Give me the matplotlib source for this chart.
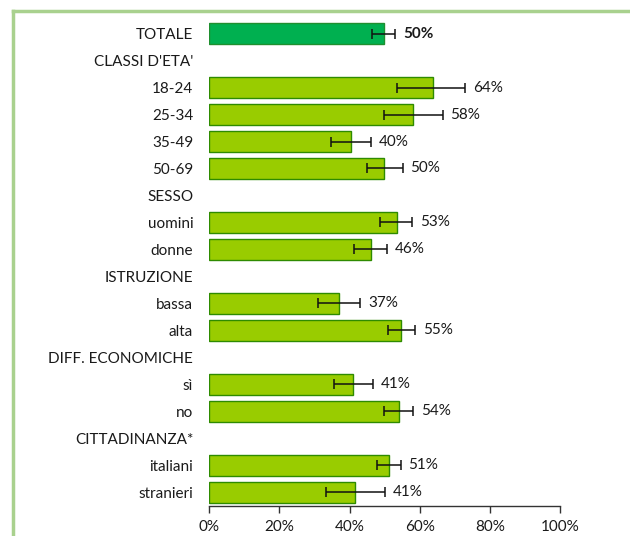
import matplotlib
matplotlib.use("Agg")
import matplotlib.pyplot as plt
from matplotlib.lines import Line2D
import numpy as np

categories = ["TOTALE", "CLASSI D'ETA'", "18-24", "25-34", "35-49", "50-69",
              "SESSO", "uomini", "donne", "ISTRUZIONE", "bassa", "alta",
              "DIFF. ECONOMICHE", "sì", "no", "CITTADINANZA*", "italiani", "stranieri"]
values = [49.7, None, 63.8, 58.2, 40.3, 49.9,
          None, 53.4, 46.0, None, 37.0, 54.8,
          None, 41.1, 54.0, None, 51.2, 41.5]
err_low = [46.4, None, 53.6, 49.8, 34.7, 44.9,
           None, 48.8, 41.4, None, 31.1, 50.9,
           None, 35.6, 49.8, None, 47.7, 33.2]
err_high = [53.1, None, 72.9, 66.5, 46.2, 55.1,
            None, 57.9, 50.7, None, 43.1, 58.7,
            None, 46.7, 58.2, None, 54.6, 50.0]
labels = ["50%", None, "64%", "58%", "40%", "50%",
          None, "53%", "46%", None, "37%", "55%",
          None, "41%", "54%", None, "51%", "41%"]
xticks = [0, 20, 40, 60, 80, 100]
xtick_labels = ["0%", "20%", "40%", "60%", "80%", "100%"]

plt.rcParams['font.family'] = ['Lato', 'DejaVu Sans']

fig = plt.figure(figsize=(6.3, 5.36), dpi=100)
ax = fig.add_axes([0.332, 0.0565, 0.557, 0.906])

n = len(categories)
y = np.arange(n)
for i in range(n):
    v = values[i]
    if v is None:
        continue
    total = (i == 0)
    face = "#00B050" if total else "#99CC00"
    edge = "#1F8F2F" if total else "#2E8B00"
    ax.barh(y[i], v, height=0.78, color=face, edgecolor=edge, linewidth=1.0, zorder=2)
    lo, hi = err_low[i], err_high[i]
    ax.errorbar(v, y[i], xerr=[[v - lo], [hi - v]], fmt='none', ecolor='#111111',
                elinewidth=1.1, capsize=3.5, capthick=1.1, zorder=3)
    ax.text(hi + 2.2, y[i], labels[i], va='center', ha='left', fontsize=11,
            color='#1a1a1a', fontweight='bold' if total else 'normal')

ax.set_ylim(n - 0.5, -0.5)
ax.set_xlim(0, 100)
ax.set_yticks(y)
ax.set_yticklabels(categories, fontsize=11, color='#1a1a1a')
ax.tick_params(axis='y', length=0, pad=11.5)
ax.set_xticks(xticks)
ax.set_xticklabels(xtick_labels, fontsize=11, color='#1a1a1a')
ax.tick_params(axis='x', length=5, width=1, color='#333333', pad=5, direction='out')
for s in ['left', 'right', 'top']:
    ax.spines[s].set_visible(False)
ax.spines['bottom'].set_color('#333333')
ax.spines['bottom'].set_linewidth(1)

# light green frame (top and left edges)
fig.add_artist(Line2D([13/630, 1.0], [1 - 11/536, 1 - 11/536], color='#A9D18E', linewidth=2.5,
                      transform=fig.transFigure))
fig.add_artist(Line2D([13/630, 13/630], [0.0, 1 - 11/536], color='#A9D18E', linewidth=2.5,
                      transform=fig.transFigure))

fig.savefig("out.png", dpi=100, facecolor='white')
